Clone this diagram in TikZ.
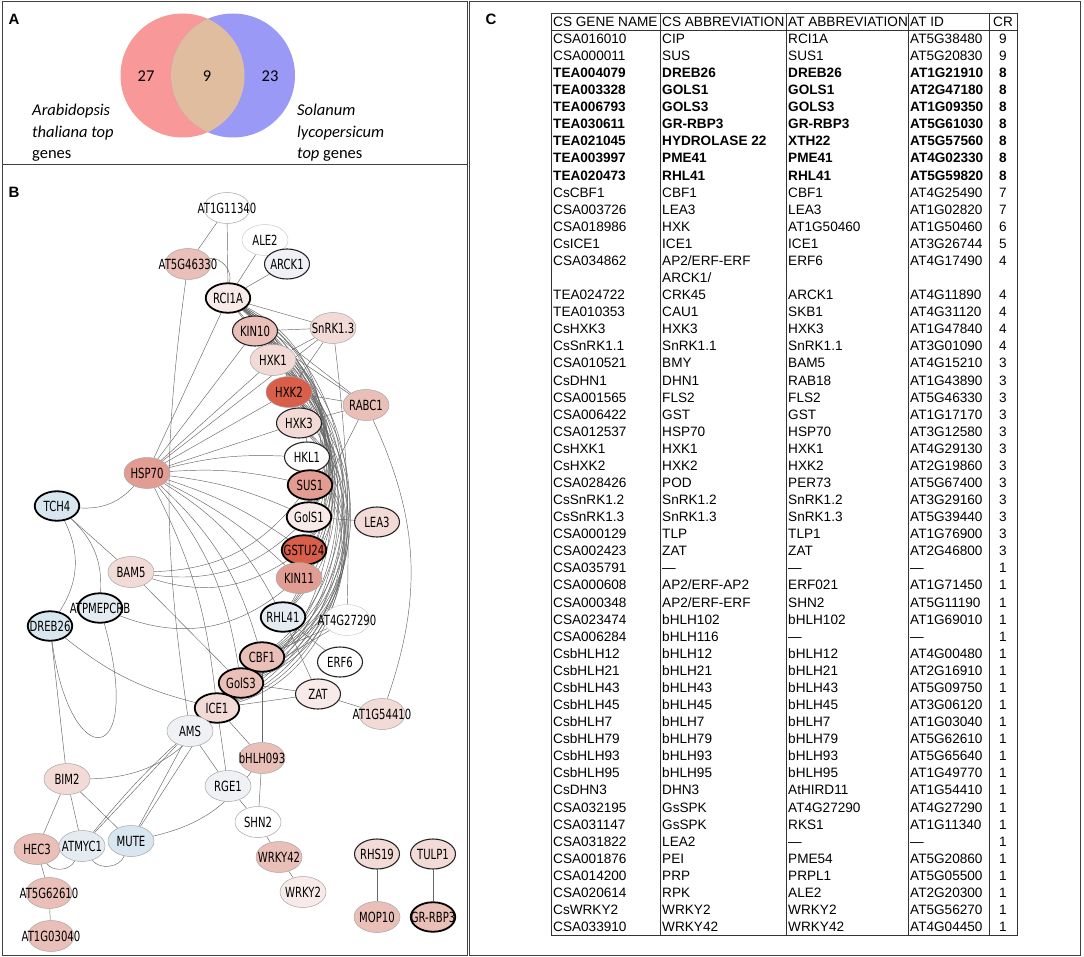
\documentclass[tikz,border=0pt]{standalone}
\usepackage{fontspec}
\setmainfont{Liberation Sans}
\newfontfamily\venfont{Carlito}
\newfontfamily\genefont{DejaVu Sans}[FakeStretch=0.72]
\usetikzlibrary{shapes.geometric}
\usetikzlibrary{backgrounds}

\definecolor{vred}{HTML}{F89898}
\definecolor{vblue}{HTML}{9A9AF6}
\definecolor{vtan}{HTML}{E0BD9E}
\definecolor{gA}{HTML}{F7EAE9}
\definecolor{gB}{HTML}{F2DAD6}
\definecolor{gC}{HTML}{E9BFB8}
\definecolor{gD}{HTML}{E29C92}
\definecolor{gE}{HTML}{D95F4A}
\definecolor{bA}{HTML}{D7E6EF}
\definecolor{bB}{HTML}{E5ECF1}
\definecolor{bC}{HTML}{EFF1F4}

% one table row: [style]{line}{gene}{cs abbr}{at abbr}{at id}{cr}
\newcommand{\trow}[7][]{%
  \node[cell,#1] (r#2a) at (553,{38.5+(#2-1)*17.08}) {#3};
  \node[cell,#1] (r#2b) at (662,{38.5+(#2-1)*17.08}) {#4};
  \node[cell,#1] (r#2c) at (788,{38.5+(#2-1)*17.08}) {#5};
  \node[cell,#1] (r#2d) at (910,{38.5+(#2-1)*17.08}) {#6};
  \node[cell,#1,anchor=center] (r#2e) at (1003,{38.5+(#2-1)*17.08}) {#7};}

\begin{document}
\begin{tikzpicture}[x=1pt,y=-1pt,
  gene/.style={ellipse, draw=black!35, line width=0.5pt, minimum width=46pt, minimum height=31pt,
    inner xsep=-17pt, inner ysep=1pt, font=\genefont\fontsize{14}{16}\selectfont},
  rim/.style={draw=black, line width=1.8pt, minimum width=44.5pt, minimum height=29.5pt},
  mid/.style={draw=black!85, line width=1.1pt, minimum width=45pt, minimum height=30pt},
  faint/.style={draw=black!20},
  edge/.style={draw=black!60, line width=0.45pt},
  cell/.style={anchor=west, inner sep=0pt, text height=9.8pt, text depth=0pt, font=\fontsize{13.6}{16}\selectfont},
  bold/.style={font=\fontsize{13.6}{16}\selectfont\bfseries},
  tline/.style={draw=black!80, line width=0.8pt},
  panel/.style={draw=black!75, line width=1pt},
  plabel/.style={font=\fontsize{15}{18}\selectfont\bfseries, inner sep=0pt},
  vtxt/.style={font=\venfont\fontsize{16.5}{21.5}\selectfont, inner sep=0pt}
]
\useasboundingbox (0,0) rectangle (1084,957);

% panel A: venn
\fill[vred] (182.5,75.5) circle (62);
\fill[vblue] (233,75.5) circle (62);
\begin{scope}
  \clip (182.5,75.5) circle (62);
  \fill[vtan] (233,75.5) circle (62);
\end{scope}
\node[vtxt] (n27) at (146,76) {27};
\node[vtxt] (n9) at (207,76) {9};
\node[vtxt] (n23) at (270,76) {23};
\node[vtxt, anchor=north west, align=left] (ath) at (32,104) {\textit{Arabidopsis}\\\textit{thaliana top}\\genes};
\node[vtxt, anchor=north west, align=left] (sly) at (297,104) {\textit{Solanum}\\\textit{lycopersicum}\\\textit{top} genes};

% panel B: network
\node[gene] (at1g11340) at (227,208) {AT1G11340};
\node[gene, faint] (ale2) at (265,240) {ALE2};
\node[gene, fill=gC] (at5g46330) at (188,264) {AT5G46330};
\node[gene, mid, fill=bC] (arck1) at (287,264) {ARCK1};
\node[gene, rim, fill=gA] (rci1a) at (228,298) {RCI1A};
\node[gene, mid, fill=gC] (kin10) at (255,331) {KIN10};
\node[gene, fill=gB] (snrk13) at (333,328) {SnRK1.3};
\node[gene, fill=gB] (hxk1) at (273,360) {HXK1};
\node[gene, fill=gE] (hxk2) at (289,392) {HXK2};
\node[gene, fill=gC] (rabc1) at (366,405) {RABC1};
\node[gene, mid, fill=gB] (hxk3) at (299,423) {HXK3};
\node[gene, mid, fill=white] (hkl1) at (307,457) {HKL1};
\node[gene, fill=gD] (hsp70) at (147,473) {HSP70};
\node[gene, rim, fill=gD] (sus1) at (310,485) {SUS1};
\node[gene, rim, fill=bA] (tch4) at (57,506) {TCH4};
\node[gene, rim, fill=gA] (gols1) at (309,517) {GolS1};
\node[gene, mid, fill=gB] (lea3) at (377,522) {LEA3};
\node[gene, rim, fill=gE] (gstu24) at (304,550) {GSTU24};
\node[gene, fill=gB] (bam5) at (131,572) {BAM5};
\node[gene, fill=gD] (kin11) at (299,578) {KIN11};
\node[gene, rim, fill=bB] (atpmepcrb) at (100,608) {ATPMEPCRB};
\node[gene, rim, fill=bA] (dreb26) at (50,626) {DREB26};
\node[gene, rim, fill=bB] (rhl41) at (283,617) {RHL41};
\node[gene, faint, fill=white] (at4g27290) at (347,620) {AT4G27290};
\node[gene, rim, fill=gC] (cbf1) at (262,657) {CBF1};
\node[gene, mid, fill=white] (erf6) at (340,662) {ERF6};
\node[gene, rim, fill=gC] (gols3) at (241,683) {GolS3};
\node[gene, mid, fill=gA] (zat) at (318,694) {ZAT};
\node[gene, rim, fill=gB] (ice1) at (217,708) {ICE1};
\node[gene, fill=gB] (at1g54410) at (382,714) {AT1G54410};
\node[gene, fill=bC] (ams) at (190,731) {AMS};
\node[gene, fill=gC] (bhlh093) at (262,758) {bHLH093};
\node[gene, fill=gB] (bim2) at (67,779) {BIM2};
\node[gene, fill=bC] (rge1) at (228,786) {RGE1};
\node[gene, fill=white] (shn2) at (258,822) {SHN2};
\node[gene, fill=gC] (hec3) at (37,849) {HEC3};
\node[gene, fill=bB] (atmyc1) at (82,846) {ATMYC1};
\node[gene, fill=bA] (mute) at (131,841) {MUTE};
\node[gene, fill=gC] (wrky42) at (279,857) {WRKY42};
\node[gene, mid, fill=gB] (rhs19) at (377,854) {RHS19};
\node[gene, mid, fill=gB] (tulp1) at (433,854) {TULP1};
\node[gene, fill=gC] (at5g62610) at (49,893) {AT5G62610};
\node[gene, fill=gA] (wrky2) at (303,892) {WRKY2};
\node[gene, fill=gC] (mop10) at (377,917) {MOP10};
\node[gene, rim, fill=gC] (grrbp3) at (433,917) {GR-RBP3};
\node[gene, fill=gC] (at1g03040) at (51,936) {AT1G03040};

\begin{scope}[on background layer]
% top cluster
\draw[edge] (at1g11340) -- (at5g46330);
\draw[edge] (at1g11340) -- (rci1a);
\draw[edge] (at5g46330) to[bend left=55] (rci1a);
\draw[edge] (at5g46330) to[bend right=8] (ams);
\draw[edge] (ale2) -- (rci1a);
\draw[edge] (arck1) -- (rci1a);
\foreach \g in {snrk13,rabc1,hxk1,kin10}
  \draw[edge] (rci1a) -- (\g);
\foreach \g in {hxk2,hxk3,hkl1}
  \draw[edge] (rci1a) to[bend left=25] (\g);
% bundle down the right side
\foreach \t in {rci1a,kin10,hxk1,hxk2,hxk3,hkl1}
  \foreach \b in {cbf1,gols3,ice1}
    \draw[edge] (\t) to[bend left=55] (\b);
\foreach \t in {rci1a,kin10,hxk1,hxk2}
  \foreach \b in {sus1,gols1,gstu24,kin11,rhl41}
    \draw[edge] (\t) to[bend left=40] (\b);
\draw[edge] (snrk13) -- (kin10);
\draw[edge] (snrk13) -- (hxk1);
\draw[edge] (snrk13) -- (hxk2);
\draw[edge] (snrk13) to[bend left=4] (at4g27290);
\draw[edge] (rabc1) -- (kin10);
\draw[edge] (rabc1) -- (hxk2);
\draw[edge] (rabc1) -- (hxk3);
\draw[edge] (rabc1) -- (gols1);
\draw[edge] (rabc1) to[bend left=22] (at1g54410);
% hsp70 fan
\foreach \g in {rci1a,kin10,hxk1,hxk2,hxk3,snrk13}
  \draw[edge] (hsp70) -- (\g);
\foreach \g in {hkl1,sus1,gols1,gstu24,kin11}
  \draw[edge] (hsp70) to[bend left=8] (\g);
\foreach \g in {rhl41,cbf1,gols3}
  \draw[edge] (hsp70) to[bend left=15] (\g);
\draw[edge] (hsp70) to[bend left=10] (ice1);
% left side
\draw[edge] (tch4) to[bend right=25] (hsp70);
\draw[edge] (tch4) -- (bam5);
\draw[edge] (tch4) to[bend left=30] (dreb26);
\draw[edge] (tch4) to[bend left=25] (atpmepcrb);
\foreach \g in {sus1,gols1,gstu24}
  \draw[edge] (bam5) to[bend right=25] (\g);
\draw[edge] (bam5) -- (gols3);
\draw[edge] (atpmepcrb) to[bend right=30] (kin11);
\draw[edge] (dreb26) .. controls (70,775) and (145,770) .. (atpmepcrb);
\draw[edge] (dreb26) to[bend right=12] (ice1);
\draw[edge] (dreb26) -- (bim2);
% right side
\draw[edge] (gols1) -- (lea3);
\draw[edge] (rhl41) -- (zat);
\draw[edge] (rhl41) -- (erf6);
\draw[edge] (at4g27290) -- (cbf1);
\draw[edge] (at4g27290) -- (gols3);
\draw[edge] (zat) -- (at1g54410);
\draw[edge] (zat) -- (gols3);
\draw[edge] (zat) -- (ice1);
\draw[edge] (bhlh093) -- (cbf1);
% lower cluster
\draw[edge] (ice1) -- (ams);
\draw[edge] (ice1) -- (rge1);
\draw[edge] (ice1) -- (bhlh093);
\draw[edge] (ice1) -- (mute);
\draw[edge] (ice1) to[bend right=5] (atmyc1);
\draw[edge] (ams) -- (rge1);
\draw[edge] (ams) -- (atmyc1);
\draw[edge] (ams) -- (mute);
\draw[edge] (bim2) to[bend right=25] (ice1);
\draw[edge] (rge1) -- (shn2);
\draw[edge] (shn2) -- (wrky42);
\draw[edge] (wrky42) -- (wrky2);
\draw[edge] (bhlh093) -- (shn2);
\draw[edge] (bhlh093) to[bend left=20] (mute);
\draw[edge] (bim2) -- (hec3);
\draw[edge] (bim2) -- (atmyc1);
\draw[edge] (bim2) -- (mute);
\draw[edge] (hec3) to[bend right=60] (atmyc1);
\draw[edge] (atmyc1) to[bend right=60] (mute);
\draw[edge] (hec3) -- (at5g62610);
\draw[edge] (at5g62610) -- (at1g03040);
\draw[edge] (rhs19) -- (mop10);
\draw[edge] (tulp1) -- (grrbp3);
\end{scope}

% panel C: table
\draw[tline] (551,13) rectangle (1017,935);
\draw[tline] (551,30) -- (1017,30);
\foreach \cx in {660,786,908,989}
  \draw[tline] (\cx,13) -- (\cx,935);
\node[cell] (h1) at (553,21.5) {CS GENE NAME};
\node[cell] (h2) at (662,21.5) {CS ABBREVIATION};
\node[cell] (h3) at (788,21.5) {AT ABBREVIATION};
\node[cell] (h4) at (910,21.5) {AT ID};
\node[cell, anchor=center] (h5) at (1003,21.5) {CR};
\trow{1}{CSA016010}{CIP}{RCI1A}{AT5G38480}{9}
\trow{2}{CSA000011}{SUS}{SUS1}{AT5G20830}{9}
\trow[bold]{3}{TEA004079}{DREB26}{DREB26}{AT1G21910}{8}
\trow[bold]{4}{TEA003328}{GOLS1}{GOLS1}{AT2G47180}{8}
\trow[bold]{5}{TEA006793}{GOLS3}{GOLS3}{AT1G09350}{8}
\trow[bold]{6}{TEA030611}{GR-RBP3}{GR-RBP3}{AT5G61030}{8}
\trow[bold]{7}{TEA021045}{HYDROLASE 22}{XTH22}{AT5G57560}{8}
\trow[bold]{8}{TEA003997}{PME41}{PME41}{AT4G02330}{8}
\trow[bold]{9}{TEA020473}{RHL41}{RHL41}{AT5G59820}{8}
\trow{10}{CsCBF1}{CBF1}{CBF1}{AT4G25490}{7}
\trow{11}{CSA003726}{LEA3}{LEA3}{AT1G02820}{7}
\trow{12}{CSA018986}{HXK}{AT1G50460}{AT1G50460}{6}
\trow{13}{CsICE1}{ICE1}{ICE1}{AT3G26744}{5}
\trow{14}{CSA034862}{AP2/ERF-ERF}{ERF6}{AT4G17490}{4}
\node[cell] (r15b) at (662,{38.5+14*17.08}) {ARCK1/};
\trow{16}{TEA024722}{CRK45}{ARCK1}{AT4G11890}{4}
\trow{17}{TEA010353}{CAU1}{SKB1}{AT4G31120}{4}
\trow{18}{CsHXK3}{HXK3}{HXK3}{AT1G47840}{4}
\trow{19}{CsSnRK1.1}{SnRK1.1}{SnRK1.1}{AT3G01090}{4}
\trow{20}{CSA010521}{BMY}{BAM5}{AT4G15210}{3}
\trow{21}{CsDHN1}{DHN1}{RAB18}{AT1G43890}{3}
\trow{22}{CSA001565}{FLS2}{FLS2}{AT5G46330}{3}
\trow{23}{CSA006422}{GST}{GST}{AT1G17170}{3}
\trow{24}{CSA012537}{HSP70}{HSP70}{AT3G12580}{3}
\trow{25}{CsHXK1}{HXK1}{HXK1}{AT4G29130}{3}
\trow{26}{CsHXK2}{HXK2}{HXK2}{AT2G19860}{3}
\trow{27}{CSA028426}{POD}{PER73}{AT5G67400}{3}
\trow{28}{CsSnRK1.2}{SnRK1.2}{SnRK1.2}{AT3G29160}{3}
\trow{29}{CsSnRK1.3}{SnRK1.3}{SnRK1.3}{AT5G39440}{3}
\trow{30}{CSA000129}{TLP}{TLP1}{AT1G76900}{3}
\trow{31}{CSA002423}{ZAT}{ZAT}{AT2G46800}{3}
\trow{32}{CSA035791}{—}{—}{—}{1}
\trow{33}{CSA000608}{AP2/ERF-AP2}{ERF021}{AT1G71450}{1}
\trow{34}{CSA000348}{AP2/ERF-ERF}{SHN2}{AT5G11190}{1}
\trow{35}{CSA023474}{bHLH102}{bHLH102}{AT1G69010}{1}
\trow{36}{CSA006284}{bHLH116}{—}{—}{1}
\trow{37}{CsbHLH12}{bHLH12}{bHLH12}{AT4G00480}{1}
\trow{38}{CsbHLH21}{bHLH21}{bHLH21}{AT2G16910}{1}
\trow{39}{CsbHLH43}{bHLH43}{bHLH43}{AT5G09750}{1}
\trow{40}{CsbHLH45}{bHLH45}{bHLH45}{AT3G06120}{1}
\trow{41}{CsbHLH7}{bHLH7}{bHLH7}{AT1G03040}{1}
\trow{42}{CsbHLH79}{bHLH79}{bHLH79}{AT5G62610}{1}
\trow{43}{CsbHLH93}{bHLH93}{bHLH93}{AT5G65640}{1}
\trow{44}{CsbHLH95}{bHLH95}{bHLH95}{AT1G49770}{1}
\trow{45}{CsDHN3}{DHN3}{AtHIRD11}{AT1G54410}{1}
\trow{46}{CSA032195}{GsSPK}{AT4G27290}{AT4G27290}{1}
\trow{47}{CSA031147}{GsSPK}{RKS1}{AT1G11340}{1}
\trow{48}{CSA031822}{LEA2}{—}{—}{1}
\trow{49}{CSA001876}{PEI}{PME54}{AT5G20860}{1}
\trow{50}{CSA014200}{PRP}{PRPL1}{AT5G05500}{1}
\trow{51}{CSA020614}{RPK}{ALE2}{AT2G20300}{1}
\trow{52}{CsWRKY2}{WRKY2}{WRKY2}{AT5G56270}{1}
\trow{53}{CSA033910}{WRKY42}{WRKY42}{AT4G04450}{1}

% frames and panel letters
\draw[panel] (2,2) rectangle (467,165);
\draw[panel] (2,165) rectangle (467,955);
\draw[panel] (469,2) rectangle (1080,955);
\node[plabel] (la) at (14,19) {A};
\node[plabel] (lb) at (14,192) {B};
\node[plabel] (lc) at (491,19) {C};
\end{tikzpicture}
\end{document}
